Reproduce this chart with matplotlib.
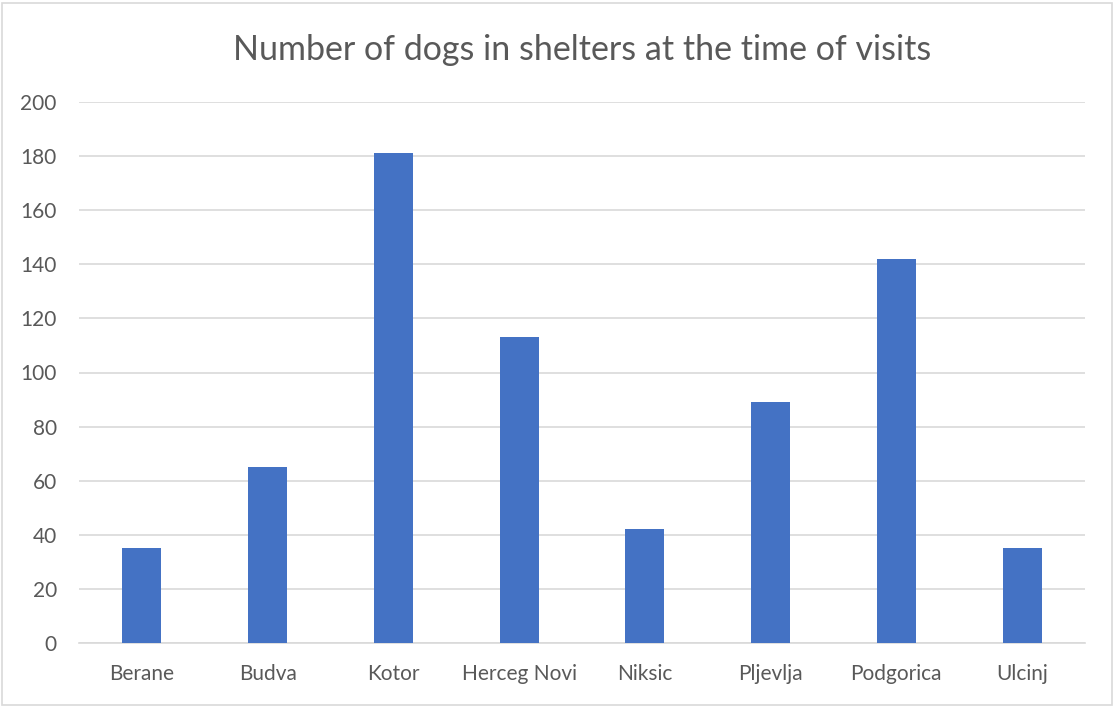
import matplotlib
matplotlib.use("Agg")
import matplotlib.pyplot as plt
from matplotlib.patches import Rectangle

categories = ["Berane", "Budva", "Kotor", "Herceg Novi", "Niksic", "Pljevlja", "Podgorica", "Ulcinj"]
dogs = [35, 65, 181, 113, 42, 89, 142, 35]
yticks = [0, 20, 40, 60, 80, 100, 120, 140, 160, 180, 200]

plt.rcParams['font.family'] = ['Lato', 'DejaVu Sans']
fig = plt.figure(figsize=(11.15, 7.07), dpi=100)
ax = fig.add_axes([79/1115, 64/707, (1085-79)/1115, (643-102)/707])

x = list(range(len(categories)))
ax.bar(x, dogs, width=0.31, color="#4472C4", zorder=3)
ax.set_xlim(-0.5, len(categories) - 0.5)
ax.set_ylim(0, 200)
ax.set_yticks(yticks)
ax.set_xticks(x)
ax.set_xticklabels(categories)
ax.grid(axis='y', color='#d9d9d9', linewidth=1.2, zorder=0)
for s in ['top', 'right', 'left']:
    ax.spines[s].set_visible(False)
ax.spines['bottom'].set_color('#d9d9d9')
ax.spines['bottom'].set_linewidth(1.2)
ax.tick_params(axis='both', length=0, labelsize=15, labelcolor='#595959')
ax.tick_params(axis='y', pad=16)
ax.tick_params(axis='x', pad=15)
ax.set_title("Number of dogs in shelters at the time of visits", fontsize=24.5, color='#595959', pad=30)

fig.patches.append(Rectangle((2/1115, 2/707), 1110/1115, 702/707, transform=fig.transFigure,
                             fill=False, edgecolor='#d9d9d9', linewidth=1.2))
fig.savefig("out.png", dpi=100, facecolor='white')
